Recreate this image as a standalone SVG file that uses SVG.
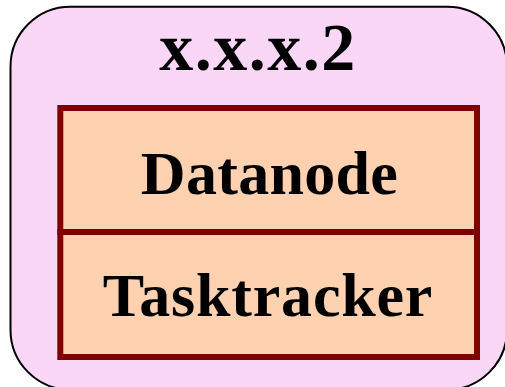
<svg xmlns="http://www.w3.org/2000/svg" width="505" height="387" viewBox="0 0 505 387">
<style>
.outer{fill:#FBD7F7;stroke:#000;stroke-width:2}
.box{fill:#FED2B0;stroke:#800000;stroke-width:6}
.t{font-family:"Liberation Serif","Times New Roman",serif;font-weight:bold;fill:#000;text-anchor:middle}
</style>
<rect width="505" height="387" fill="#fff"/>
<g id="host">
<rect class="outer" x="10.5" y="6.7" width="496.5" height="383" rx="60" ry="60"/>
<text class="t" x="258" y="70" font-size="68" letter-spacing="1.5">x.x.x.2</text>
</g>
<g id="datanode">
<rect class="box" x="60.3" y="108" width="416.7" height="124"/>
<text class="t" x="269.5" y="194" font-size="62" letter-spacing="0.3">Datanode</text>
</g>
<g id="tasktracker">
<rect class="box" x="60.3" y="232" width="416.7" height="125"/>
<text class="t" x="268" y="315.5" font-size="62" letter-spacing="0.8">Tasktracker</text>
</g>
<g id="connectors"></g>
</svg>
